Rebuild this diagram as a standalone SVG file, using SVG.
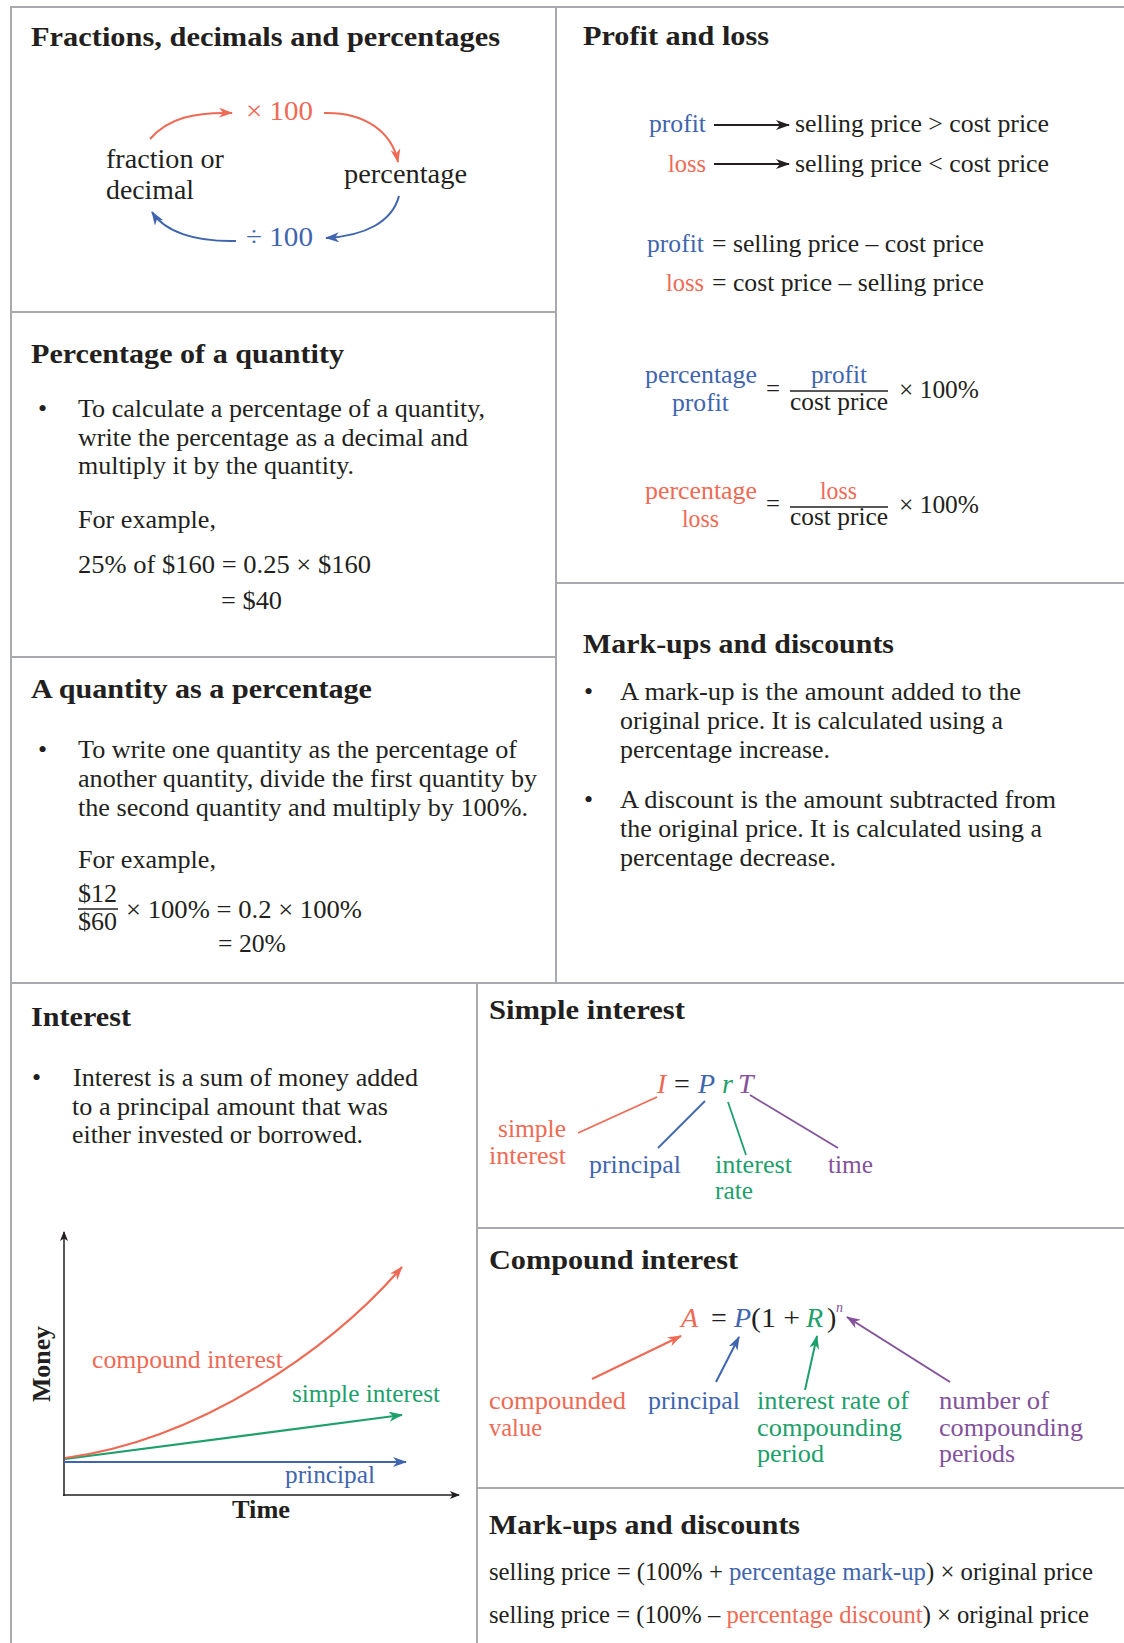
<svg xmlns="http://www.w3.org/2000/svg" width="1124" height="1643" viewBox="0 0 1124 1643">
<style>
text{font-family:"Liberation Serif","Times New Roman",serif;fill:#231f20;}
.t{font-weight:bold;font-size:28px;}
.b{font-size:26px;}
.l{font-size:28px;}
.f{font-size:28px;font-style:italic;}
.r{fill:#ee6a55;}
.u{fill:#3f65ae;}
.g{fill:#1da06b;}
.p{fill:#83529a;}
#grid line{stroke:#a8aaad;stroke-width:2;}
.cr{stroke:#ee6a55;fill:none;}
.cu{stroke:#3f65ae;fill:none;}
.cg{stroke:#1da06b;fill:none;}
.cp{stroke:#83529a;fill:none;}
.ck{stroke:#231f20;fill:none;}
</style>
<defs>
<marker id="mR" viewBox="0 0 14 10" refX="13" refY="5" markerWidth="14" markerHeight="10" markerUnits="userSpaceOnUse" orient="auto"><path d="M0,0 L14,5 L0,10 L4,5 z" fill="#ee6a55"/></marker>
<marker id="mU" viewBox="0 0 14 10" refX="13" refY="5" markerWidth="14" markerHeight="10" markerUnits="userSpaceOnUse" orient="auto"><path d="M0,0 L14,5 L0,10 L4,5 z" fill="#3f65ae"/></marker>
<marker id="mG" viewBox="0 0 14 10" refX="13" refY="5" markerWidth="14" markerHeight="10" markerUnits="userSpaceOnUse" orient="auto"><path d="M0,0 L14,5 L0,10 L4,5 z" fill="#1da06b"/></marker>
<marker id="mP" viewBox="0 0 14 10" refX="13" refY="5" markerWidth="14" markerHeight="10" markerUnits="userSpaceOnUse" orient="auto"><path d="M0,0 L14,5 L0,10 L4,5 z" fill="#83529a"/></marker>
<marker id="mK" viewBox="0 0 14 10" refX="13" refY="5" markerWidth="14" markerHeight="10" markerUnits="userSpaceOnUse" orient="auto"><path d="M0,0 L14,5 L0,10 L4,5 z" fill="#231f20"/></marker>
<marker id="mKs" viewBox="0 0 10 8" refX="9" refY="4" markerWidth="10" markerHeight="8" markerUnits="userSpaceOnUse" orient="auto"><path d="M0,0 L10,4 L0,8 L2.5,4 z" fill="#231f20"/></marker>
</defs>
<rect width="1124" height="1643" fill="#ffffff"/>

<g id="grid">
<line x1="11" y1="7" x2="1124" y2="7"/>
<line x1="11" y1="6" x2="11" y2="1643"/>
<line x1="556" y1="7" x2="556" y2="984"/>
<line x1="11" y1="312" x2="556" y2="312"/>
<line x1="11" y1="657" x2="556" y2="657"/>
<line x1="556" y1="583" x2="1124" y2="583"/>
<line x1="11" y1="983" x2="1124" y2="983"/>
<line x1="477" y1="983" x2="477" y2="1643"/>
<line x1="477" y1="1228" x2="1124" y2="1228"/>
<line x1="477" y1="1488" x2="1124" y2="1488"/>
</g>

<g id="panel-fractions">
<text class="t" x="31" y="46" textLength="469" lengthAdjust="spacingAndGlyphs">Fractions, decimals and percentages</text>
<g id="node-fraction"><text class="l" x="106" y="168" textLength="118" lengthAdjust="spacingAndGlyphs">fraction or</text>
<text class="l" x="106" y="199" textLength="88" lengthAdjust="spacingAndGlyphs">decimal</text></g>
<g id="node-percentage"><text class="l" x="344" y="183" textLength="123" lengthAdjust="spacingAndGlyphs">percentage</text></g>
<g id="label-times"><text class="l r" x="246" y="120" textLength="67" lengthAdjust="spacingAndGlyphs">× 100</text></g>
<g id="label-divide"><text class="l u" x="246" y="246" textLength="67" lengthAdjust="spacingAndGlyphs">÷ 100</text></g>
</g>

<g id="panel-percentage-of-quantity">
<text class="t" x="31" y="363" textLength="313" lengthAdjust="spacingAndGlyphs">Percentage of a quantity</text>
<text class="b" x="38" y="417">•</text>
<text class="b" x="78" y="417" textLength="407" lengthAdjust="spacingAndGlyphs">To calculate a percentage of a quantity,</text>
<text class="b" x="78" y="446" textLength="390" lengthAdjust="spacingAndGlyphs">write the percentage as a decimal and</text>
<text class="b" x="78" y="474" textLength="276" lengthAdjust="spacingAndGlyphs">multiply it by the quantity.</text>
<text class="b" x="78" y="528" textLength="138" lengthAdjust="spacingAndGlyphs">For example,</text>
<text class="b" x="78" y="573" textLength="293" lengthAdjust="spacingAndGlyphs">25% of $160 = 0.25 × $160</text>
<text class="b" x="221" y="609" textLength="61" lengthAdjust="spacingAndGlyphs">= $40</text>
</g>

<g id="panel-quantity-as-percentage">
<text class="t" x="31" y="698" textLength="341" lengthAdjust="spacingAndGlyphs">A quantity as a percentage</text>
<text class="b" x="38" y="758">•</text>
<text class="b" x="78" y="758" textLength="439" lengthAdjust="spacingAndGlyphs">To write one quantity as the percentage of</text>
<text class="b" x="78" y="787" textLength="459" lengthAdjust="spacingAndGlyphs">another quantity, divide the first quantity by</text>
<text class="b" x="78" y="816" textLength="450" lengthAdjust="spacingAndGlyphs">the second quantity and multiply by 100%.</text>
<text class="b" x="78" y="868" textLength="138" lengthAdjust="spacingAndGlyphs">For example,</text>
<text class="b" x="78" y="902" textLength="39" lengthAdjust="spacingAndGlyphs">$12</text>
<line x1="78" y1="909" x2="118" y2="909" stroke="#231f20" stroke-width="1.5"/>
<text class="b" x="78" y="930" textLength="39" lengthAdjust="spacingAndGlyphs">$60</text>
<text class="b" x="126" y="918" textLength="236" lengthAdjust="spacingAndGlyphs">× 100% = 0.2 × 100%</text>
<text class="b" x="218" y="952" textLength="68" lengthAdjust="spacingAndGlyphs">= 20%</text>
</g>

<g id="panel-profit-loss">
<text class="t" x="583" y="45" textLength="186" lengthAdjust="spacingAndGlyphs">Profit and loss</text>
<g id="node-profit"><text class="b u" x="649" y="132" textLength="57" lengthAdjust="spacingAndGlyphs">profit</text></g>
<g id="node-sp-gt"><text class="b" x="795" y="132" textLength="254" lengthAdjust="spacingAndGlyphs">selling price &gt; cost price</text></g>
<g id="node-loss"><text class="b r" x="668" y="172" textLength="38" lengthAdjust="spacingAndGlyphs">loss</text></g>
<g id="node-sp-lt"><text class="b" x="795" y="172" textLength="254" lengthAdjust="spacingAndGlyphs">selling price &lt; cost price</text></g>
<text class="b u" x="647" y="252" textLength="57" lengthAdjust="spacingAndGlyphs">profit</text>
<text class="b" x="712" y="252" textLength="272" lengthAdjust="spacingAndGlyphs">= selling price – cost price</text>
<text class="b r" x="666" y="291" textLength="38" lengthAdjust="spacingAndGlyphs">loss</text>
<text class="b" x="712" y="291" textLength="272" lengthAdjust="spacingAndGlyphs">= cost price – selling price</text>
<text class="b u" x="645" y="383" textLength="112" lengthAdjust="spacingAndGlyphs">percentage</text>
<text class="b u" x="672" y="411" textLength="57" lengthAdjust="spacingAndGlyphs">profit</text>
<text class="b" x="766" y="397" textLength="14" lengthAdjust="spacingAndGlyphs">=</text>
<text class="b u" x="811" y="383" textLength="56" lengthAdjust="spacingAndGlyphs">profit</text>
<line x1="790" y1="391" x2="888" y2="391" stroke="#231f20" stroke-width="1.5"/>
<text class="b" x="790" y="410" textLength="98" lengthAdjust="spacingAndGlyphs">cost price</text>
<text class="b" x="899" y="398" textLength="80" lengthAdjust="spacingAndGlyphs">× 100%</text>
<text class="b r" x="645" y="499" textLength="112" lengthAdjust="spacingAndGlyphs">percentage</text>
<text class="b r" x="682" y="527" textLength="37" lengthAdjust="spacingAndGlyphs">loss</text>
<text class="b" x="766" y="512" textLength="14" lengthAdjust="spacingAndGlyphs">=</text>
<text class="b r" x="820" y="499" textLength="37" lengthAdjust="spacingAndGlyphs">loss</text>
<line x1="790" y1="507" x2="888" y2="507" stroke="#231f20" stroke-width="1.5"/>
<text class="b" x="790" y="525" textLength="98" lengthAdjust="spacingAndGlyphs">cost price</text>
<text class="b" x="899" y="513" textLength="80" lengthAdjust="spacingAndGlyphs">× 100%</text>
</g>

<g id="panel-markups-1">
<text class="t" x="583" y="653" textLength="311" lengthAdjust="spacingAndGlyphs">Mark-ups and discounts</text>
<text class="b" x="584" y="700">•</text>
<text class="b" x="620" y="700" textLength="401" lengthAdjust="spacingAndGlyphs">A mark-up is the amount added to the</text>
<text class="b" x="620" y="729" textLength="383" lengthAdjust="spacingAndGlyphs">original price. It is calculated using a</text>
<text class="b" x="620" y="758" textLength="210" lengthAdjust="spacingAndGlyphs">percentage increase.</text>
<text class="b" x="584" y="808">•</text>
<text class="b" x="620" y="808" textLength="436" lengthAdjust="spacingAndGlyphs">A discount is the amount subtracted from</text>
<text class="b" x="620" y="837" textLength="422" lengthAdjust="spacingAndGlyphs">the original price. It is calculated using a</text>
<text class="b" x="620" y="866" textLength="216" lengthAdjust="spacingAndGlyphs">percentage decrease.</text>
</g>

<g id="panel-interest">
<text class="t" x="31" y="1026" textLength="100" lengthAdjust="spacingAndGlyphs">Interest</text>
<text class="b" x="32" y="1086">•</text>
<text class="b" x="73" y="1086" textLength="345" lengthAdjust="spacingAndGlyphs">Interest is a sum of money added</text>
<text class="b" x="72" y="1115" textLength="316" lengthAdjust="spacingAndGlyphs">to a principal amount that was</text>
<text class="b" x="72" y="1143" textLength="291" lengthAdjust="spacingAndGlyphs">either invested or borrowed.</text>
<text class="b" font-weight="bold" transform="translate(50,1402) rotate(-90)" x="0" y="0" textLength="76" lengthAdjust="spacingAndGlyphs">Money</text>
<text class="b" font-weight="bold" x="232" y="1518" textLength="58" lengthAdjust="spacingAndGlyphs">Time</text>
<text class="b r" x="92" y="1368" textLength="191" lengthAdjust="spacingAndGlyphs">compound interest</text>
<text class="b g" x="292" y="1402" textLength="148" lengthAdjust="spacingAndGlyphs">simple interest</text>
<text class="b u" x="285" y="1483" textLength="90" lengthAdjust="spacingAndGlyphs">principal</text>
</g>

<g id="panel-simple-interest">
<text class="t" x="489" y="1019" textLength="196" lengthAdjust="spacingAndGlyphs">Simple interest</text>
<text class="f r" x="657" y="1093">I</text>
<text class="l" x="674" y="1093" fill="#333">=</text>
<text class="f u" x="698" y="1093">P</text>
<text class="f g" x="722" y="1093">r</text>
<text class="f p" x="738" y="1093">T</text>
<text class="b r" x="498" y="1137" textLength="68" lengthAdjust="spacingAndGlyphs">simple</text>
<text class="b r" x="489" y="1164" textLength="77" lengthAdjust="spacingAndGlyphs">interest</text>
<text class="b u" x="589" y="1173" textLength="92" lengthAdjust="spacingAndGlyphs">principal</text>
<text class="b g" x="715" y="1173" textLength="77" lengthAdjust="spacingAndGlyphs">interest</text>
<text class="b g" x="715" y="1199" textLength="38" lengthAdjust="spacingAndGlyphs">rate</text>
<text class="b p" x="828" y="1173" textLength="45" lengthAdjust="spacingAndGlyphs">time</text>
</g>

<g id="panel-compound-interest">
<text class="t" x="489" y="1269" textLength="249" lengthAdjust="spacingAndGlyphs">Compound interest</text>
<text class="f r" x="681" y="1327">A</text>
<text class="l" x="711" y="1327">=</text>
<text class="f u" x="734" y="1327">P</text>
<text class="l" x="751" y="1327" textLength="49" lengthAdjust="spacingAndGlyphs">(1 +</text>
<text class="f g" x="806" y="1327">R</text>
<text class="l" x="827" y="1327">)</text>
<text class="p" x="836" y="1312" font-size="14" font-style="italic">n</text>
<text class="b r" x="489" y="1409" textLength="137" lengthAdjust="spacingAndGlyphs">compounded</text>
<text class="b r" x="489" y="1436" textLength="53" lengthAdjust="spacingAndGlyphs">value</text>
<text class="b u" x="648" y="1409" textLength="92" lengthAdjust="spacingAndGlyphs">principal</text>
<text class="b g" x="757" y="1409" textLength="152" lengthAdjust="spacingAndGlyphs">interest rate of</text>
<text class="b g" x="757" y="1436" textLength="145" lengthAdjust="spacingAndGlyphs">compounding</text>
<text class="b g" x="757" y="1462" textLength="67" lengthAdjust="spacingAndGlyphs">period</text>
<text class="b p" x="939" y="1409" textLength="110" lengthAdjust="spacingAndGlyphs">number of</text>
<text class="b p" x="939" y="1436" textLength="144" lengthAdjust="spacingAndGlyphs">compounding</text>
<text class="b p" x="939" y="1462" textLength="76" lengthAdjust="spacingAndGlyphs">periods</text>
</g>

<g id="panel-markups-2">
<text class="t" x="489" y="1534" textLength="311" lengthAdjust="spacingAndGlyphs">Mark-ups and discounts</text>
<text class="b" font-size="25" x="489" y="1580" textLength="604" lengthAdjust="spacingAndGlyphs">selling price = (100% + <tspan class="u">percentage mark-up</tspan>) × original price</text>
<text class="b" font-size="25" x="489" y="1623" textLength="600" lengthAdjust="spacingAndGlyphs">selling price = (100% – <tspan class="r">percentage discount</tspan>) × original price</text>
</g>

<g id="connectors">
<path class="cr" stroke-width="2" d="M150,139 C168,118 195,112 232,113" marker-end="url(#mR)"/>
<path class="cr" stroke-width="2" d="M324,113 C365,112 392,132 398,162" marker-end="url(#mR)"/>
<path class="cu" stroke-width="2" d="M399,196 C392,222 365,236 326,238" marker-end="url(#mU)"/>
<path class="cu" stroke-width="2" d="M236,241 C195,242 165,232 152,212" marker-end="url(#mU)"/>
<line class="ck" stroke-width="2" x1="714" y1="125" x2="789" y2="125" marker-end="url(#mK)"/>
<line class="ck" stroke-width="2" x1="714" y1="164" x2="789" y2="164" marker-end="url(#mK)"/>
<line class="ck" stroke-width="1.5" x1="64" y1="1496" x2="64" y2="1232" marker-end="url(#mKs)"/>
<line class="ck" stroke-width="1.5" x1="63" y1="1495" x2="459" y2="1495" marker-end="url(#mKs)"/>
<line class="cu" stroke-width="2.2" x1="64" y1="1462" x2="406" y2="1462" marker-end="url(#mU)"/>
<line class="cg" stroke-width="2.2" x1="65" y1="1459" x2="402" y2="1415" marker-end="url(#mG)"/>
<path class="cr" stroke-width="2.2" d="M65,1458 C200,1440 330,1350 402,1267" marker-end="url(#mR)"/>
<line class="cr" stroke-width="1.8" x1="657" y1="1097" x2="578" y2="1133"/>
<line class="cu" stroke-width="1.8" x1="705" y1="1101" x2="658" y2="1148"/>
<line class="cg" stroke-width="1.8" x1="728" y1="1102" x2="746" y2="1155"/>
<line class="cp" stroke-width="1.8" x1="750" y1="1095" x2="838" y2="1148"/>
<line class="cr" stroke-width="2" x1="592" y1="1379" x2="681" y2="1336" marker-end="url(#mR)"/>
<line class="cu" stroke-width="2" x1="716" y1="1382" x2="739" y2="1337" marker-end="url(#mU)"/>
<line class="cg" stroke-width="2" x1="805" y1="1390" x2="817" y2="1336" marker-end="url(#mG)"/>
<line class="cp" stroke-width="2" x1="950" y1="1382" x2="847" y2="1317" marker-end="url(#mP)"/>
</g>
</svg>
